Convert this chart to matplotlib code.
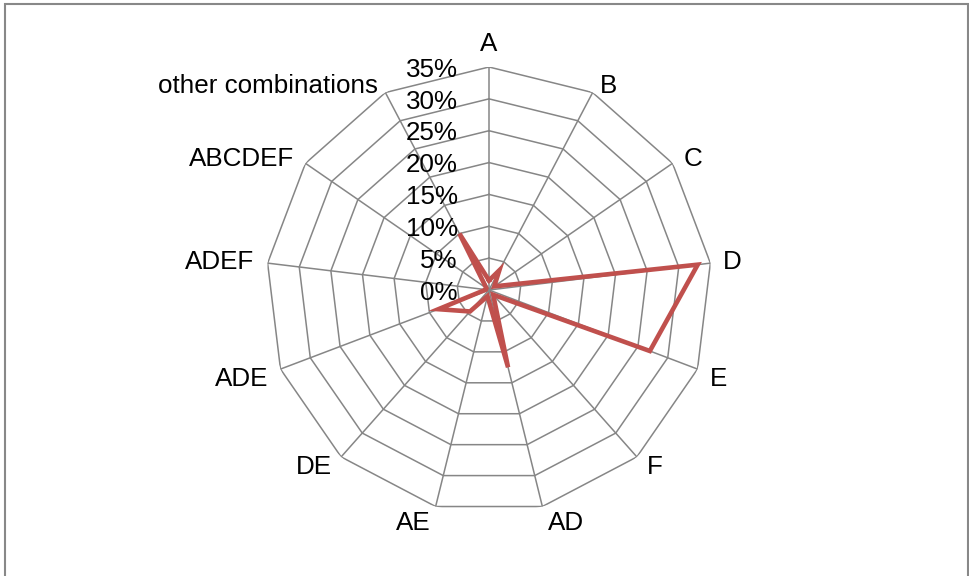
import numpy as np
import matplotlib.pyplot as plt
from matplotlib.patches import Rectangle

plt.rcParams['font.family'] = ['Liberation Sans', 'DejaVu Sans']

# Share of respondents per answer combination
categories = ['A', 'B', 'C', 'D', 'E', 'F', 'AD', 'AE', 'DE', 'ADE',
              'ADEF', 'ABCDEF', 'other combinations']
shares = [1.5, 3.5, 1.0, 33.0, 27.0, 1.0, 12.5, 1.0, 4.5, 8.5, 0.5, 0.5, 10.0]
ring_values = [0, 5, 10, 15, 20, 25, 30, 35]
ring_labels = ['0%', '5%', '10%', '15%', '20%', '25%', '30%', '35%']

grid_color = '#868686'
line_color = '#C0504D'
fs = 18.7
px = 72 / 100  # points per pixel at dpi 100

n = len(categories)
theta = np.arange(n) * 2 * np.pi / n
theta_closed = np.append(theta, theta[0])

fig = plt.figure(figsize=(9.7, 5.76), dpi=100)
ax = fig.add_axes([266 / 970, 63 / 576, 446 / 970, 446 / 576], projection='polar')
ax.set_theta_zero_location('N')
ax.set_theta_direction(-1)
ax.set_ylim(0, ring_values[-1])
ax.set_xticks([])
ax.set_yticks([])
ax.grid(False)
ax.spines['polar'].set_visible(False)
ax.patch.set_alpha(0)

# polygon rings and spokes
for r in ring_values[1:]:
    ax.plot(theta_closed, [r] * (n + 1), color=grid_color, lw=1.1, zorder=1)
for t in theta:
    ax.plot([t, t], [0, ring_values[-1]], color=grid_color, lw=1.1, zorder=1)

# data series
vals_closed = shares + shares[:1]
ax.plot(theta_closed, vals_closed, color=line_color, lw=3.3, zorder=3,
        solid_joinstyle='miter')

# value labels along the first spoke
for r, lab in zip(ring_values, ring_labels):
    ax.annotate(lab, xy=(0, r), xytext=(-22.5, -2), textcoords='offset points',
                ha='right', va='center', fontsize=fs, zorder=4)

# category labels outside the outer ring
for t, name in zip(theta, categories):
    s, c = np.sin(t), np.cos(t)
    if abs(s) < 0.1:
        ax.annotate(name, xy=(t, ring_values[-1]), xytext=(0, 8),
                    textcoords='offset points', ha='center', va='bottom',
                    fontsize=fs)
        continue
    ha = 'left' if s > 0 else 'right'
    dx = (3 + 10 * abs(s)) * np.sign(s)
    if c >= 0:
        dy = -7 * c
    elif c > -0.9:
        dy = 10
    else:
        dy = 16
    ax.annotate(name, xy=(t, ring_values[-1]), xytext=(dx * px, -dy * px),
                textcoords='offset points', ha=ha, va='center', fontsize=fs)

# chart frame
fig.patches.append(Rectangle((5 / 970, -0.05), 963 / 970, 1.05 - 4 / 576,
                             transform=fig.transFigure, fill=False,
                             edgecolor='#888888', lw=1.5))

fig.savefig('out.png', dpi=100)
